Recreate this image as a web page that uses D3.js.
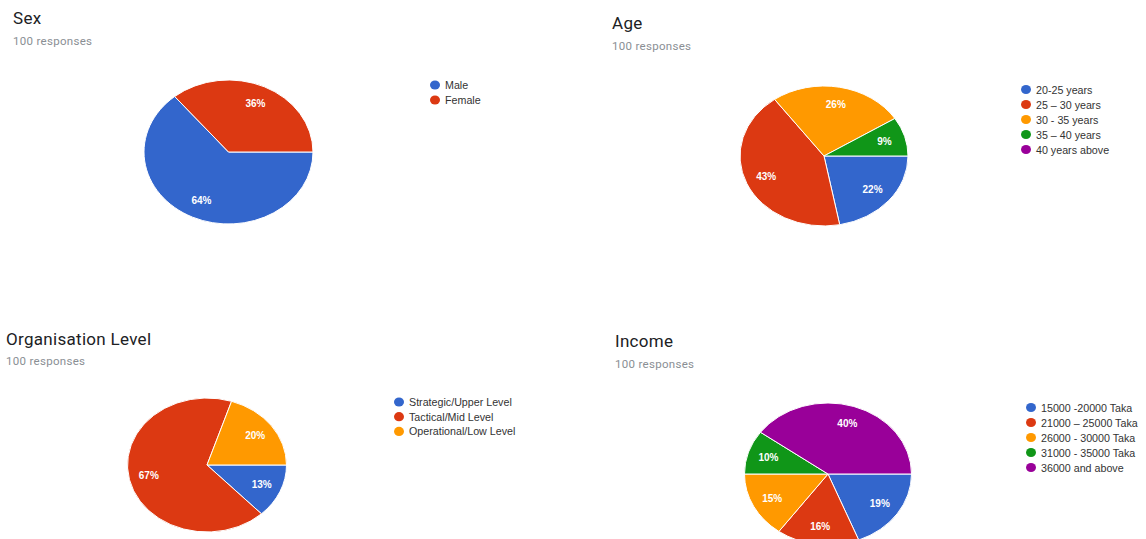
<!DOCTYPE html>
<html>
<head>
<meta charset="utf-8">
<script src="https://cdn.jsdelivr.net/npm/d3@7"></script>
<style>
  html, body { margin: 0; padding: 0; background: #fff; }
  svg { display: block; }
</style>
</head>
<body>
<svg id="chart" width="1146" height="539"></svg>
<script>
// ---- Data ----
const sexLabels = ["Male", "Female"];
const sexValues = [64, 36];

const ageLabels = ["20-25 years", "25 \u2013 30 years", "30 - 35 years", "35 \u2013 40 years", "40 years above"];
const ageValues = [22, 43, 26, 9, 0];

const orgLabels = ["Strategic/Upper Level", "Tactical/Mid Level", "Operational/Low Level"];
const orgValues = [13, 67, 20];

const incomeLabels = ["15000 -20000 Taka", "21000 \u2013 25000 Taka", "26000 - 30000 Taka", "31000 - 35000 Taka", "36000 and above"];
const incomeValues = [19, 16, 15, 10, 40];

const titles = ["Sex", "Age", "Organisation Level", "Income"];
const subtitle = "100 responses";
const palette = ["#3366cc", "#dc3912", "#ff9900", "#109618", "#990099"];

// ---- Layout (positions only) ----
const panels = [
  { title: titles[0], labels: sexLabels, values: sexValues,
    tx: 13, ty: 24, sy: 45, cx: 228.5, cy: 152, rx: 84.5, ry: 72, lx: 435, ly: 85, lstep: 15 },
  { title: titles[1], labels: ageLabels, values: ageValues,
    tx: 612, ty: 29, sy: 50, cx: 824, cy: 156, rx: 84, ry: 70, lx: 1026, ly: 89.5, lstep: 15 },
  { title: titles[2], labels: orgLabels, values: orgValues,
    tx: 6, ty: 345, sy: 365, cx: 207, cy: 465, rx: 79.5, ry: 67, lx: 399, ly: 402, lstep: 14.7 },
  { title: titles[3], labels: incomeLabels, values: incomeValues,
    tx: 615, ty: 347, sy: 368, cx: 828, cy: 474, rx: 83.5, ry: 71, lx: 1031, ly: 407.5, lstep: 15 }
];

const svg = d3.select("#chart");
const color = d3.scaleOrdinal().range(palette);

const pie = d3.pie().sort(null).value(d => d.value)
  .startAngle(Math.PI / 2).endAngle(Math.PI / 2 + 2 * Math.PI);
const arc = d3.arc().innerRadius(0).outerRadius(1);
const labelArc = d3.arc().innerRadius(0.75).outerRadius(0.75);

panels.forEach(p => {
  const g = svg.append("g");
  g.append("text")
    .attr("x", p.tx).attr("y", p.ty)
    .attr("font-family", "Roboto, 'Open Sans', sans-serif")
    .attr("font-size", 17).attr("letter-spacing", 0.3).attr("fill", "#202124")
    .text(p.title);
  g.append("text")
    .attr("x", p.tx).attr("y", p.sy)
    .attr("font-family", "Roboto, 'Open Sans', sans-serif")
    .attr("font-size", 11.5).attr("letter-spacing", 0.3).attr("fill", "#8a8f94")
    .text(subtitle);

  const data = p.labels.map((l, i) => ({ label: l, value: p.values[i], idx: i }));
  const arcs = pie(data).filter(d => d.data.value > 0);

  const pg = g.append("g").attr("transform", `translate(${p.cx},${p.cy}) scale(${p.rx},${p.ry})`);
  pg.selectAll("path").data(arcs).join("path")
    .attr("d", arc)
    .attr("fill", d => color(d.data.idx))
    .attr("stroke", "#ffffff")
    .attr("stroke-width", 1)
    .attr("vector-effect", "non-scaling-stroke");

  g.selectAll("text.lbl").data(arcs).join("text")
    .attr("class", "lbl")
    .attr("x", d => p.cx + labelArc.centroid(d)[0] * p.rx)
    .attr("y", d => p.cy + labelArc.centroid(d)[1] * p.ry)
    .attr("text-anchor", "middle")
    .attr("dominant-baseline", "central")
    .attr("font-family", "Arial, 'Liberation Sans', sans-serif")
    .attr("font-size", 10).attr("font-weight", "bold")
    .attr("fill", "#ffffff")
    .text(d => d.data.value + "%");

  const lg = g.append("g");
  const items = lg.selectAll("g").data(data).join("g")
    .attr("transform", (d, i) => `translate(${p.lx},${p.ly + i * p.lstep})`);
  items.append("ellipse").attr("rx", 5).attr("ry", 4.6).attr("fill", d => color(d.idx));
  items.append("text")
    .attr("x", 10).attr("y", 0)
    .attr("dominant-baseline", "central")
    .attr("font-family", "Arial, 'Liberation Sans', sans-serif")
    .attr("font-size", 10.7).attr("fill", "#333333")
    .text(d => d.label);
});
</script>
</body>
</html>
